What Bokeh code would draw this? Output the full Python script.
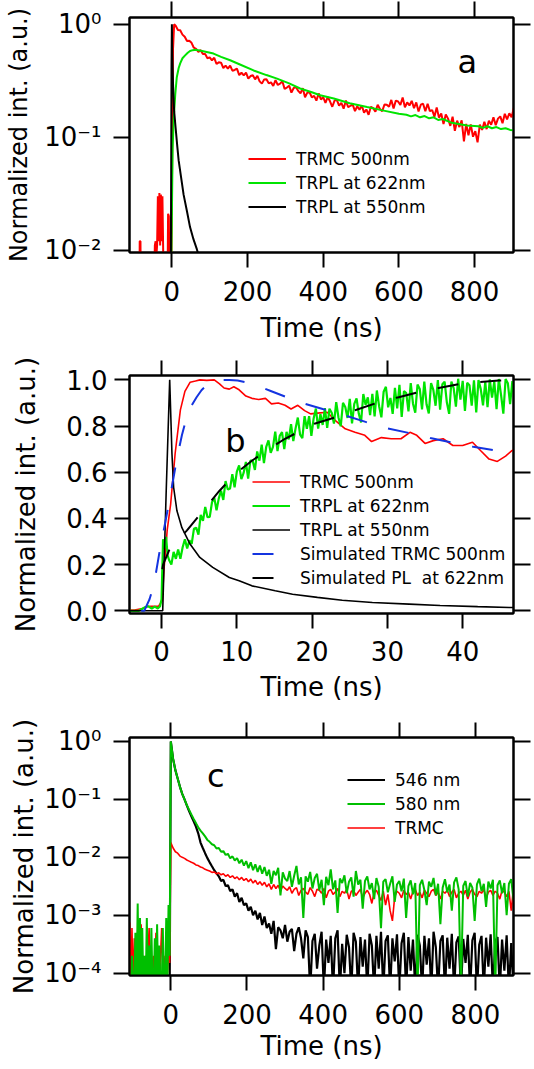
import numpy as np
from bokeh.plotting import figure
from bokeh.layouts import column
from bokeh.models import (FixedTicker, LinearAxis, LogAxis, Legend, LegendItem,
                          Label, Range1d, NumeralTickFormatter)
from bokeh.embed import file_html
from bokeh.resources import INLINE

FONT = "DejaVu Sans"
RED = "#ff0000"
GREEN = "#00e400"
GREEN_C = "#00bf00"
BLACK = "#000000"
BLUE = "#1434e0"

# ---------------- Panel a (log scale) ----------------
A_RED_PRE_T = [-112, -86, -85, -83, -82, -48, -45, -43, -41, -39, -37, -35, -33, -31,
               -29, -27, -25, -23, -21, -12, -10, -8, -6, -2, 0, 3, 6]
A_RED_PRE_Y = [0.003, 0.003, 0.012, 0.012, 0.003, 0.003, 0.011, 0.012, 0.009, 0.011,
               0.03, 0.012, 0.032, 0.011, 0.031, 0.012, 0.03, 0.01, 0.003, 0.003,
               0.021, 0.02, 0.003, 0.003, 0.03, 0.6, 1.0]
A_RED_T0, A_RED_DT = 10, 6  # sampling of the TRMC trace (ns)
A_RED_Y = [0.97, 0.89, 0.885, 0.81, 0.775, 0.71, 0.715, 0.685, 0.62, 0.605,
           0.57, 0.59, 0.545, 0.545, 0.50, 0.51, 0.48, 0.505, 0.445, 0.46,
           0.457, 0.41, 0.43, 0.405, 0.43, 0.388, 0.394, 0.405, 0.355, 0.372,
           0.353, 0.373, 0.33, 0.348, 0.354, 0.325, 0.35, 0.312, 0.298, 0.325,
           0.326, 0.30, 0.306, 0.285, 0.32, 0.29, 0.298, 0.313, 0.268, 0.275,
           0.286, 0.248, 0.273, 0.278, 0.257, 0.244, 0.272, 0.226, 0.248, 0.25,
           0.225, 0.232, 0.211, 0.244, 0.216, 0.226, 0.201, 0.227, 0.208, 0.186,
           0.211, 0.214, 0.19, 0.201, 0.179, 0.211, 0.184, 0.19, 0.194, 0.17,
           0.188, 0.175, 0.191, 0.165, 0.176, 0.158, 0.186, 0.181, 0.168, 0.194,
           0.178, 0.17, 0.195, 0.194, 0.186, 0.214, 0.18, 0.211, 0.207, 0.193,
           0.225, 0.184, 0.203, 0.191, 0.21, 0.181, 0.203, 0.169, 0.194, 0.198,
           0.17, 0.198, 0.17, 0.174, 0.152, 0.183, 0.149, 0.162, 0.131, 0.159,
           0.146, 0.126, 0.152, 0.114, 0.14, 0.123, 0.141, 0.092, 0.131, 0.104,
           0.13, 0.101, 0.113, 0.09, 0.129, 0.116, 0.137, 0.118, 0.14, 0.129,
           0.15, 0.128, 0.146, 0.153, 0.133, 0.161, 0.144, 0.163, 0.15, 0.182]
A_GREEN_T = [-112, -3, 0, 2, 5, 9, 13, 18, 22, 28, 35, 42, 48, 55, 62, 70, 80, 95, 110,
             130, 154, 180, 216, 250, 278, 310, 339, 370, 392, 428, 470, 516, 560, 600,
             620, 632, 644, 656, 668, 680, 692, 704, 716, 740, 780, 810, 822, 834, 846,
             858, 870, 882, 894, 904]
A_GREEN_Y = [0.003, 0.003, 0.02, 0.08, 0.15, 0.24, 0.34, 0.41, 0.45, 0.50, 0.53, 0.56,
             0.58, 0.59, 0.595, 0.59, 0.58, 0.565, 0.55, 0.515, 0.48, 0.44, 0.39, 0.355,
             0.33, 0.30, 0.27, 0.25, 0.235, 0.22, 0.20, 0.185, 0.172, 0.161, 0.158,
             0.153, 0.157, 0.150, 0.154, 0.147, 0.150, 0.142, 0.145, 0.134, 0.127,
             0.125, 0.121, 0.125, 0.12, 0.123, 0.118, 0.12, 0.116, 0.115]
A_BLACK_T = [-112, -3, -1, 0, 1, 3, 6, 10, 14, 18, 24, 31, 40, 48, 57, 66, 75]
A_BLACK_Y = [0.003, 0.003, 0.4, 1.0, 0.55, 0.3, 0.17, 0.12, 0.085, 0.062, 0.045,
             0.031, 0.022, 0.016, 0.0125, 0.0102, 0.008]

# ---------------- Panel b (linear scale) ----------------
B_RED_T = [-4.3, -3.6, -2.5, -2.0, -1.4, -0.4, 0.1, 0.3, 0.75, 1.2, 1.8, 2.5, 3.1, 3.8,
           4.5, 5.1, 6.0, 7.0, 7.7, 8.3, 9.0, 9.6, 10.3, 11.2, 12.0, 12.9, 13.8, 14.6,
           15.5, 16.4, 17.2, 18.1, 19.0, 19.8, 20.7, 22.0, 23.1, 24.4, 25.7, 27.0, 27.9,
           29.2, 30.5, 31.8, 33.0, 33.9, 35.0, 36.1, 37.4, 38.7, 40.0, 41.3, 42.4, 43.5,
           44.6, 45.7, 46.5, 47.0]
B_RED_Y = [0.003, 0.003, 0.01, 0.018, 0.02, 0.02, 0.045, 0.17, 0.35, 0.46, 0.68, 0.87,
           0.95, 0.99, 0.995, 1.0, 0.998, 1.0, 0.983, 0.965, 0.96, 0.97, 0.957, 0.93,
           0.92, 0.915, 0.92, 0.896, 0.9, 0.89, 0.874, 0.89, 0.867, 0.853, 0.856, 0.86,
           0.824, 0.788, 0.773, 0.76, 0.733, 0.75, 0.745, 0.745, 0.773, 0.76, 0.725,
           0.737, 0.745, 0.716, 0.716, 0.73, 0.693, 0.657, 0.647, 0.67, 0.693, 0.70]
B_GREEN_PRE_T = [-4.3, -3.0, -2.5, -2.2, -1.8, -1.3, -0.9, -0.5, -0.2, 0.0, 0.2, 0.4, 0.6, 0.8]
B_GREEN_PRE_Y = [0.0, 0.0, 0.01, 0.015, 0.02, 0.01, 0.018, 0.01, 0.02, 0.05, 0.31, 0.27, 0.32, 0.24]
B_GREEN_T0, B_GREEN_DT = 1.0, 0.3  # sampling of the TRPL 622 nm trace (ns)
B_GREEN_Y = [0.22, 0.20, 0.255, 0.225, 0.265, 0.225, 0.275, 0.31, 0.27, 0.305,
             0.29, 0.355, 0.36, 0.33, 0.415, 0.39, 0.45, 0.405, 0.407, 0.47,
             0.49, 0.435, 0.487, 0.52, 0.48, 0.562, 0.525, 0.53, 0.592, 0.535,
             0.603, 0.63, 0.57, 0.597, 0.645, 0.572, 0.65, 0.65, 0.61, 0.69,
             0.65, 0.72, 0.64, 0.71, 0.738, 0.684, 0.71, 0.776, 0.692, 0.758,
             0.774, 0.70, 0.775, 0.742, 0.808, 0.735, 0.79, 0.837, 0.763, 0.748,
             0.843, 0.788, 0.843, 0.758, 0.833, 0.876, 0.789, 0.852, 0.805, 0.878,
             0.792, 0.875, 0.858, 0.811, 0.904, 0.837, 0.799, 0.901, 0.883, 0.835,
             0.918, 0.812, 0.896, 0.92, 0.853, 0.816, 0.939, 0.892, 0.924, 0.847,
             0.94, 0.842, 0.954, 0.886, 0.838, 0.949, 0.97, 0.881, 0.922, 0.853,
             0.965, 0.877, 0.979, 0.84, 0.952, 0.943, 0.864, 0.986, 0.897, 0.858,
             0.98, 0.961, 0.872, 0.993, 0.894, 0.855, 0.986, 0.957, 0.888, 0.999,
             0.871, 0.981, 0.992, 0.902, 0.853, 0.993, 0.964, 0.884, 1.005, 0.915,
             0.996, 0.866, 0.987, 0.977, 0.888, 0.998, 0.859, 0.999, 0.96, 0.89,
             0.992, 0.882, 1.002, 0.923, 0.993, 0.873, 1.004, 0.934, 0.854, 1.004,
             0.985, 0.895, 0.995, 0.915, 0.975]
B_BLACK_T = [-4.3, 0.15, 0.6, 1.08, 1.38, 1.6, 2.04, 2.7, 3.78, 5.08, 6.8, 9.0, 10.3,
             12.0, 15.1, 17.4, 20.7, 24.0, 28.0, 32.9, 37.0, 42.0, 46.2, 47.0]
B_BLACK_Y = [0.0, 0.0, 0.5, 1.0, 0.68, 0.535, 0.433, 0.36, 0.289, 0.231, 0.188, 0.144,
             0.13, 0.108, 0.087, 0.072, 0.058, 0.046, 0.036, 0.029, 0.023, 0.018, 0.0145, 0.014]
B_SIMTRMC_T = [-2.7, -2.3, -1.6, -1.0, -0.3, 0.3, 1.17, 2.04, 2.7, 3.35, 4.0, 4.65, 5.3,
               5.95, 6.6, 7.25, 8.1, 9.0, 10.1, 11.2, 12.9, 14.5, 16.4, 18.5, 21.4, 24.2,
               27.1, 30.0, 32.9, 35.7, 38.6, 41.4, 44.4, 47.0]
B_SIMTRMC_Y = [0.0, 0.0, 0.05, 0.115, 0.25, 0.35, 0.5, 0.66, 0.76, 0.84, 0.89, 0.925,
               0.955, 0.976, 0.99, 0.998, 1.0, 1.0, 0.997, 0.99, 0.972, 0.952, 0.928,
               0.902, 0.874, 0.848, 0.818, 0.79, 0.77, 0.748, 0.728, 0.71, 0.694, 0.68]
B_SIMPL_T = [0.1, 0.2, 1.17, 3.35, 5.5, 7.7, 9.8, 12.0, 14.2, 16.4, 18.5, 20.3, 23.1,
             26.0, 29.2, 31.5, 34.0, 36.8, 39.6, 42.2, 44.8, 47.0]
B_SIMPL_Y = [0.18, 0.2, 0.275, 0.347, 0.433, 0.52, 0.593, 0.65, 0.70, 0.745, 0.78, 0.81,
             0.838, 0.872, 0.907, 0.925, 0.946, 0.965, 0.982, 0.99, 0.997, 1.0]

# ---------------- Panel c (log scale) ----------------
C_PRE_T0, C_PRE_DT = -108, 3   # sampling before excitation (ns)
C_T0, C_DT = 0, 6              # sampling after excitation (ns)
C_BLACK_PRE = [5e-5, 5e-5, 5e-5, 5e-5, 1.7e-4, 5e-5, 2e-4, 5e-5, 5e-5, 5e-5, 5e-5, 1.5e-4,
               5e-5, 5e-5, 5e-5, 5e-5, 5e-5, 5e-5, 1.2e-4, 5e-5, 5e-5, 5e-5, 5e-5, 5e-5,
               5e-5, 5e-5, 1.5e-4, 5e-5, 5e-5, 5e-5, 5e-5, 5e-5, 5e-5, 5e-5, 5e-5, 5e-5]
C_GREEN_PRE = [5e-5, 5e-5, 2e-4, 5e-5, 5e-5, 5e-4, 5e-5, 1.6e-3, 5e-5, 9e-4, 5e-5, 6e-4,
               5e-5, 2e-4, 5e-5, 9e-4, 5e-5, 3e-4, 5e-5, 6e-4, 5e-5, 5e-5, 4e-4, 5e-5,
               7e-4, 5e-5, 3e-4, 5e-5, 5e-5, 6e-4, 5e-5, 5e-5, 9e-4, 5e-5, 1.5e-3, 2e-4]
C_RED_PRE = [7.5e-4, 5e-5, 6e-4, 5e-5, 4e-4, 5e-5, 1.5e-4, 5e-5, 2e-4, 1e-4, 7e-4, 1.1e-4,
             2e-4, 1e-4, 2e-4, 1.1e-4, 2e-4, 6e-4, 1e-4, 2e-4, 1.1e-4, 2e-4, 1e-4, 5e-4,
             1.1e-4, 2e-4, 1e-4, 2e-4, 6e-4, 1e-4, 2e-4, 1.1e-4, 2e-4, 1e-4, 2e-4, 1.5e-4]
C_BLACK = [1.0, 0.5, 0.32, 0.23, 0.165, 0.125, 0.1, 0.079, 0.063, 0.051,
           0.042, 0.034, 0.026, 0.018, 0.0145, 0.0118, 0.0097, 0.0082, 0.0070, 0.0060,
           0.0053, 0.0047, 0.0039, 0.0041, 0.0032, 0.0033, 0.0026, 0.0028, 0.0021, 0.0024,
           0.0017, 0.0020, 0.0015, 0.0016, 0.0012, 0.0014, 0.0010, 0.0012, 0.00085, 0.0011,
           0.00068, 0.00095, 0.0006, 0.00072, 0.00048, 0.0008, 0.00026, 0.00062, 0.00055, 0.0004,
           0.00068, 0.00035, 0.00052, 0.00058, 0.00024, 0.00048, 0.00062, 0.0004, 0.00018, 0.00055,
           0.00042, 0.00005, 0.00036, 0.00048, 0.00012, 0.0003, 0.00052, 0.00005, 0.00038, 0.00015,
           0.00044, 0.00005, 0.0004, 0.00055, 0.00005, 0.00032, 0.0001, 0.00046, 0.00028, 0.00005,
           0.0005, 0.00035, 0.00005, 0.00042, 0.00013, 0.00038, 0.00005, 0.00048, 0.0003, 0.00005,
           0.00044, 0.00012, 0.00052, 0.00005, 0.00036, 0.00045, 0.00005, 0.0004, 0.00016, 0.00047,
           0.00005, 0.00033, 0.0005, 0.00005, 0.00042, 0.00011, 0.00038, 0.00005, 0.00046, 0.0003,
           0.00005, 0.00044, 0.00014, 0.0004, 0.00005, 0.00052, 0.00028, 0.00005, 0.00036, 0.00045,
           0.00005, 0.00041, 0.00012, 0.00048, 0.00005, 0.00034, 0.00043, 0.00005, 0.00039, 0.00015,
           0.00046, 0.00005, 0.00037, 0.0005, 0.00005, 0.00031, 0.00044, 0.00005, 0.00041, 0.00013,
           0.00047, 0.00005, 0.00035, 0.00042, 0.00005, 0.00038, 0.00011, 0.00045, 0.00005, 0.00033,
           0.00005]
C_GREEN = [1.0, 0.5, 0.32, 0.23, 0.165, 0.125, 0.1, 0.08, 0.066, 0.055,
           0.046, 0.039, 0.033, 0.029, 0.026, 0.023, 0.020, 0.0185, 0.0168, 0.0162,
           0.0142, 0.0145, 0.0125, 0.0128, 0.011, 0.0115, 0.0096, 0.0104, 0.0088, 0.0097,
           0.0079, 0.0091, 0.0072, 0.0086, 0.0065, 0.0082, 0.0060, 0.0076, 0.0056, 0.0072,
           0.0052, 0.0068, 0.0048, 0.0061, 0.0035, 0.0058, 0.0049, 0.0066, 0.0022, 0.0055,
           0.0043, 0.0039, 0.0058, 0.0031, 0.0048, 0.0071, 0.0034, 0.0045, 0.0009, 0.0047,
           0.0038, 0.0056, 0.0029, 0.0044, 0.0052, 0.0027, 0.0041, 0.0015, 0.0046, 0.0033,
           0.0062, 0.0028, 0.0040, 0.0011, 0.0043, 0.0036, 0.0049, 0.0024, 0.0038, 0.0045,
           0.0021, 0.0058, 0.0034, 0.0041, 0.0013, 0.0039, 0.0047, 0.0028, 0.0036, 0.0019,
           0.0044, 0.0031, 0.0006, 0.0038, 0.0042, 0.0025, 0.0035, 0.0047, 0.0017, 0.0034,
           0.0039, 0.0026, 0.0043, 0.0009, 0.0032, 0.0040, 0.0023, 0.0036, 0.00005, 0.0033,
           0.0041, 0.0027, 0.0015, 0.0038, 0.0031, 0.0044, 0.0022, 0.0035, 0.0007, 0.0030,
           0.0042, 0.0025, 0.0034, 0.0012, 0.0037, 0.0045, 0.0028, 0.00005, 0.0032, 0.0039,
           0.0021, 0.0036, 0.0030, 0.0008, 0.0034, 0.0043, 0.0026, 0.0035, 0.0014, 0.0038,
           0.0029, 0.0041, 0.00005, 0.0033, 0.0040, 0.0024, 0.0036, 0.0010, 0.0035, 0.0042,
           0.0018]
C_RED = [0.018, 0.0145, 0.0125, 0.0118, 0.0105, 0.0100, 0.0096, 0.0090, 0.0086, 0.0082,
         0.0079, 0.0074, 0.0072, 0.0068, 0.0066, 0.0062, 0.0060, 0.0058, 0.0055, 0.0056,
         0.0052, 0.0054, 0.0050, 0.0052, 0.0047, 0.0050, 0.0045, 0.0048, 0.0043, 0.0046,
         0.0041, 0.0045, 0.0040, 0.0043, 0.0038, 0.0042, 0.0036, 0.0040, 0.0034, 0.0038,
         0.0033, 0.0037, 0.0031, 0.0035, 0.0028, 0.0034, 0.0029, 0.0033, 0.0026, 0.0032,
         0.0029, 0.0027, 0.0031, 0.0024, 0.0028, 0.0030, 0.0022, 0.0027, 0.0029, 0.0025,
         0.0023, 0.0030, 0.0026, 0.0021, 0.0028, 0.0027, 0.0024, 0.0029, 0.0020, 0.0026,
         0.0028, 0.0023, 0.0025, 0.0029, 0.0021, 0.0026, 0.0024, 0.0028, 0.0019, 0.0026,
         0.0027, 0.0022, 0.0025, 0.0028, 0.0020, 0.0024, 0.0027, 0.0023, 0.0016, 0.0025,
         0.0027, 0.0022, 0.0018, 0.0026, 0.0015, 0.0023, 0.0012, 0.0008, 0.0021, 0.0026,
         0.0024, 0.0020, 0.0027, 0.0023, 0.0025, 0.0019, 0.0026, 0.0028, 0.0022, 0.0025,
         0.0020, 0.0027, 0.0024, 0.0021, 0.0026, 0.0028, 0.0022, 0.0025, 0.0019, 0.0026,
         0.0024, 0.0027, 0.0021, 0.0025, 0.0028, 0.0020, 0.0024, 0.0026, 0.0022, 0.0027,
         0.0019, 0.0025, 0.0028, 0.0023, 0.0021, 0.0026, 0.0024, 0.0028, 0.0020, 0.0025,
         0.0027, 0.0022, 0.0026, 0.0024, 0.0019, 0.0027, 0.0025, 0.0021, 0.0026, 0.0012,
         0.0030]

LOG_TICK_LABELS = {1.0: "10\u2070", 0.1: "10\u207b\u00b9", 0.01: "10\u207b\u00b2",
                   0.001: "10\u207b\u00b3", 0.0001: "10\u207b\u2074"}
TIME_TICKS_LONG = [0, 200, 400, 600, 800]
TIME_TICKS_SHORT = [0, 10, 20, 30, 40]
B_Y_TICKS = [0.0, 0.2, 0.4, 0.6, 0.8, 1.0]


def grid(t0, dt, n):
    return [t0 + dt * i for i in range(n)]


def base_fig(w, h, xr, yr, ylog, borders):
    left, right, top, bottom = borders
    p = figure(width=w, height=h, x_range=Range1d(*xr), y_range=Range1d(*yr),
               y_axis_type="log" if ylog else "linear", output_backend="svg",
               toolbar_location=None, min_border_left=left, min_border_right=right,
               min_border_top=top, min_border_bottom=bottom)
    p.grid.visible = False
    p.outline_line_color = "black"
    p.outline_line_width = 2
    p.background_fill_color = "white"
    p.border_fill_color = "white"
    return p


def style_axis(ax, ticks, tick_out, standoff, label=None, label_standoff=5,
               show_labels=True, label_size="26px"):
    ax.ticker = FixedTicker(ticks=ticks, minor_ticks=[])
    ax.major_tick_out = tick_out
    ax.major_tick_in = 0
    ax.minor_tick_out = 0
    ax.minor_tick_in = 0
    ax.major_tick_line_width = 2
    ax.major_tick_line_color = "black"
    ax.axis_line_width = 2
    ax.axis_line_color = "black"
    ax.major_label_standoff = standoff
    ax.major_label_text_font = FONT
    ax.major_label_text_color = "black"
    if show_labels:
        ax.major_label_text_font_size = "26px"
    else:
        ax.major_label_text_font_size = "1px"
        ax.major_label_text_alpha = 0
        ax.major_label_standoff = 0
    if label:
        ax.axis_label = label
        ax.axis_label_text_font = FONT
        ax.axis_label_text_font_size = label_size
        ax.axis_label_text_font_style = "normal"
        ax.axis_label_text_color = "black"
        ax.axis_label_standoff = label_standoff


def mirror(p, xticks, yticks, ylog, top_out, right_out):
    top = LinearAxis()
    style_axis(top, xticks, top_out, 0, show_labels=False)
    p.add_layout(top, "above")
    right = LogAxis() if ylog else LinearAxis()
    style_axis(right, yticks, right_out, 0, show_labels=False)
    p.add_layout(right, "right")


def make_legend(p, entries, loc):
    items = [LegendItem(label=lab, renderers=[r]) for lab, r in entries]
    leg = Legend(items=items, location=loc, border_line_color=None,
                 background_fill_alpha=0, padding=0, margin=0, spacing=3,
                 glyph_width=38, glyph_height=21, label_height=21, label_standoff=10,
                 label_text_font=FONT, label_text_font_size="17px",
                 label_text_color="black")
    p.add_layout(leg)


def panel_letter(p, x, y, txt):
    p.add_layout(Label(x=x, y=y, text=txt, text_font=FONT, text_font_size="32px",
                       text_color="black", text_align="center",
                       text_baseline="alphabetic"))


YLABEL = "Normalized int. (a.u.)"
XLABEL = "Time (ns)"

# ---------- figure a ----------
pa = base_fig(534, 349, (-112, 903), (10 ** -2.021, 10 ** 0.06), True, (129, 21, 17, 97))
ra = pa.line(A_RED_PRE_T + grid(A_RED_T0, A_RED_DT, len(A_RED_Y)), A_RED_PRE_Y + A_RED_Y,
             line_color=RED, line_width=2)
ga = pa.line(A_GREEN_T, A_GREEN_Y, line_color=GREEN, line_width=2)
ka = pa.line(A_BLACK_T, A_BLACK_Y, line_color=BLACK, line_width=2)
style_axis(pa.xaxis[0], TIME_TICKS_LONG, 15, 13, XLABEL, 9)
style_axis(pa.yaxis[0], [1.0, 0.1, 0.01], 16, 12, YLABEL, 8, label_size="24px")
pa.yaxis[0].major_label_overrides = LOG_TICK_LABELS
mirror(pa, TIME_TICKS_LONG, [1.0, 0.1, 0.01], True, 16, 17)
make_legend(pa, [("TRMC 500nm", ra), ("TRPL at 622nm", ga), ("TRPL at 550nm", ka)], (119, 35))
panel_letter(pa, 781, 0.463, "a")

# ---------- figure b ----------
pb = base_fig(534, 359, (-4.26, 46.75), (-0.0117, 1.019), False, (123, 19, 26, 95))
rb = pb.line(B_RED_T, B_RED_Y, line_color=RED, line_width=1.6)
gb = pb.line(B_GREEN_PRE_T + grid(B_GREEN_T0, B_GREEN_DT, len(B_GREEN_Y)),
             B_GREEN_PRE_Y + B_GREEN_Y, line_color=GREEN, line_width=2.2)
kb = pb.line(B_BLACK_T, B_BLACK_Y, line_color=BLACK, line_width=1.6)
bb = pb.line(B_SIMTRMC_T, B_SIMTRMC_Y, line_color=BLUE, line_width=2, line_dash="21 22")
db = pb.line(B_SIMPL_T, B_SIMPL_Y, line_color=BLACK, line_width=2, line_dash="21 22")
style_axis(pb.xaxis[0], TIME_TICKS_SHORT, 15, 12, XLABEL, 8)
style_axis(pb.yaxis[0], B_Y_TICKS, 15, 7, YLABEL, 22)
pb.yaxis[0].formatter = NumeralTickFormatter(format="0.0")
mirror(pb, TIME_TICKS_SHORT, B_Y_TICKS, False, 15, 17)
make_legend(pb, [("TRMC 500nm", rb), ("TRPL at 622nm", gb), ("TRPL at 550nm", kb),
                 ("Simulated TRMC 500nm", bb), ("Simulated PL  at 622nm", db)], (123, 25))
panel_letter(pb, 9.8, 0.737, "b")

# ---------- figure c ----------
pc = base_fig(534, 361, (-108.5, 900), (10 ** -4.04, 10 ** 0.069), True, (124, 21, 29, 94))
pre_t = grid(C_PRE_T0, C_PRE_DT, len(C_BLACK_PRE))
kc = pc.line(pre_t + grid(C_T0, C_DT, len(C_BLACK)), C_BLACK_PRE + C_BLACK,
             line_color=BLACK, line_width=2.2)
rc = pc.line(pre_t + grid(C_T0, C_DT, len(C_RED)), C_RED_PRE + C_RED,
             line_color=RED, line_width=1.6)
gc = pc.line(pre_t + grid(C_T0, C_DT, len(C_GREEN)), C_GREEN_PRE + C_GREEN,
             line_color=GREEN_C, line_width=2.0)
c_yt = [1.0, 0.1, 0.01, 0.001, 0.0001]
style_axis(pc.xaxis[0], TIME_TICKS_LONG, 15, 13, XLABEL, 4)
style_axis(pc.yaxis[0], c_yt, 16, 12, YLABEL, 2)
pc.yaxis[0].major_label_overrides = LOG_TICK_LABELS
mirror(pc, TIME_TICKS_LONG, c_yt, True, 15, 17)
make_legend(pc, [("546 nm", kc), ("580 nm", gc), ("TRMC", rc)], (218, 137))
panel_letter(pc, 118, 0.257, "c")

layout = column(pa, pb, pc, spacing=0)
open("out.html", "w").write(file_html(layout, INLINE))
